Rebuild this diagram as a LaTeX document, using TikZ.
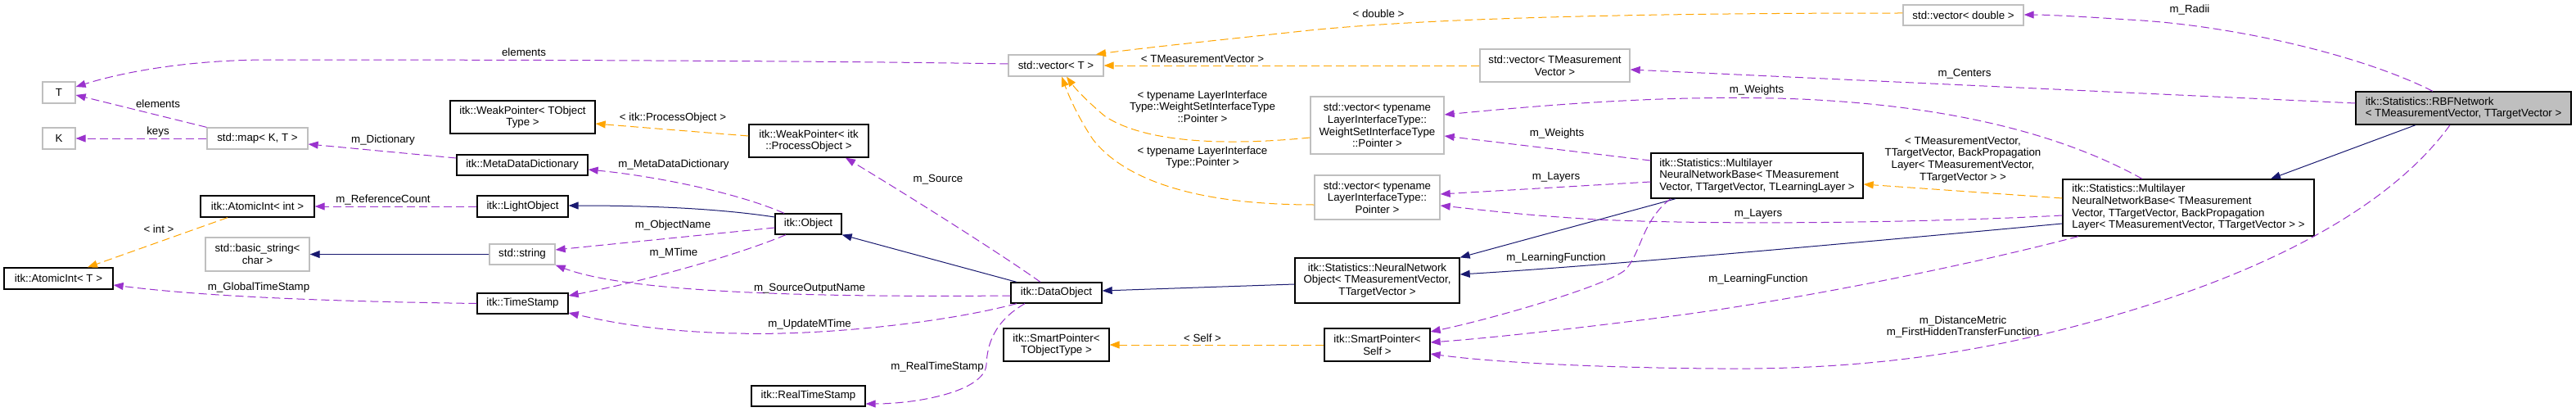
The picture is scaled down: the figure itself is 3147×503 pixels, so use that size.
\documentclass[tikz,border=0pt]{standalone}
\usepackage{fontspec}
\setmainfont{Liberation Sans}
\usetikzlibrary{arrows.meta}
\definecolor{mpurple}{HTML}{9A32CD}
\definecolor{morange}{HTML}{FFA500}
\definecolor{mblue}{HTML}{191970}
\definecolor{mgrey}{HTML}{BFBFBF}
\newcommand\dxfont{\fontsize{13.3}{14.7}\selectfont}
\begin{document}
\begin{tikzpicture}[x=1pt,y=-1pt,
  box/.style={draw=black, line width=1.3pt, fill=white, inner sep=0pt, font=\dxfont, align=center},
  gbox/.style={box, draw=mgrey},
  lbox/.style={box, align=left},
  fbox/.style={box, fill=mgrey, align=left},
  lab/.style={font=\dxfont, inner sep=0pt, align=center},
  tip/.style={-{Triangle[length=12pt,width=9pt]}},
  mem/.style={draw=mpurple, line width=1pt, dash pattern=on 10pt off 5pt, tip},
  tmpl/.style={draw=morange, line width=1pt, dash pattern=on 10pt off 5pt, tip},
  inh/.style={draw=mblue, line width=1pt, tip}]
\fill[white] (0,0) rectangle (3147,503);
\useasboundingbox (0,0) rectangle (3147,503);

% nodes
\node[gbox, minimum width=40pt, minimum height=26pt] (T) at (72,113) {T};
\node[gbox, minimum width=40pt, minimum height=26pt] (K) at (72,169) {K};
\node[gbox, minimum width=123pt, minimum height=26pt] (map) at (314.5,169) {std::map< K, T >};
\node[box, minimum width=139pt, minimum height=26pt] (AIint) at (314.5,252) {itk::AtomicInt< int >};
\node[gbox, minimum width=127pt, minimum height=41pt] (bstr) at (314.5,310.5) {std::basic\_string<\\char >};
\node[box, minimum width=133pt, minimum height=26pt] (AIT) at (71.5,340) {itk::AtomicInt< T >};
\node[box, minimum width=177pt, minimum height=40pt] (WPT) at (638.5,143) {itk::WeakPointer< TObject\\Type >};
\node[box, minimum width=160pt, minimum height=25pt] (MDD) at (638,201.5) {itk::MetaDataDictionary};
\node[box, minimum width=111pt, minimum height=26pt] (LO) at (638.5,252) {itk::LightObject};
\node[gbox, minimum width=80pt, minimum height=25pt] (str) at (638,310.5) {std::string};
\node[box, minimum width=111pt, minimum height=25pt] (TS) at (638.5,370.5) {itk::TimeStamp};
\node[box, minimum width=146pt, minimum height=40pt] (WPP) at (988,172) {itk::WeakPointer< itk\\::ProcessObject >};
\node[box, minimum width=81pt, minimum height=25pt] (Obj) at (987.5,273.5) {itk::Object};
\node[box, minimum width=139pt, minimum height=25pt] (RTS) at (987.5,483.5) {itk::RealTimeStamp};
\node[gbox, minimum width=116pt, minimum height=26pt] (vT) at (1290,80) {std::vector< T >};
\node[box, minimum width=111pt, minimum height=25pt] (DO) at (1290.5,357.5) {itk::DataObject};
\node[box, minimum width=129pt, minimum height=40pt] (SPT) at (1290.5,421) {itk::SmartPointer<\\TObjectType >};
\node[gbox, minimum width=147pt, minimum height=25pt] (vD) at (2398.5,18.5) {std::vector< double >};
\node[gbox, minimum width=183pt, minimum height=40pt] (vTMV) at (1899.5,80) {std::vector< TMeasurement\\Vector >};
\node[gbox, minimum width=163pt, minimum height=70pt] (vW) at (1682.5,153) {std::vector< typename\\LayerInterfaceType::\\WeightSetInterfaceType\\::Pointer >};
\node[gbox, minimum width=153pt, minimum height=54pt] (vL) at (1682.5,241) {std::vector< typename\\LayerInterfaceType::\\Pointer >};
\node[box, minimum width=201pt, minimum height=55pt] (NNO) at (1682.5,342.5) {itk::Statistics::NeuralNetwork\\Object< TMeasurementVector,\\TTargetVector >};
\node[box, minimum width=129pt, minimum height=40pt] (SPS) at (1682.5,421) {itk::SmartPointer<\\Self >};
\node[lbox, minimum width=259pt, minimum height=55pt] (MLT) at (2146.5,214.5) {itk::Statistics::Multilayer\\NeuralNetworkBase< TMeasurement\\Vector, TTargetVector, TLearningLayer >};
\node[lbox, minimum width=307pt, minimum height=69pt] (MLB) at (2673.5,253.5) {itk::Statistics::Multilayer\\NeuralNetworkBase< TMeasurement\\Vector, TTargetVector, BackPropagation\\Layer< TMeasurementVector, TTargetVector > >};
\node[fbox, minimum width=263pt, minimum height=40pt] (RBF) at (3009.5,132) {itk::Statistics::RBFNetwork\\< TMeasurementVector, TTargetVector >};

% edges
\draw[mem] (vT.west |- 0,78) .. controls (1000,74) and (600,73) .. (330,73) .. controls (230,73) and (150,88) .. (T.east |- 0,106);
\draw[mem] (map.north west) -- (T.east |- 0,116);
\draw[mem] (map.west) -- (K.east);
\draw[mem] (MDD.west |- 0,193) -- (map.east |- 0,176);
\draw[mem] (LO.west) -- (AIint.east);
\draw[tmpl] (278,0 |- AIint.south) -- (107,0 |- AIT.north);
\draw[inh] (str.west) -- (bstr.east);
\draw[mem] (TS.west) .. controls (400,368) and (250,362) .. (AIT.east |- 0,348);
\draw[tmpl] (WPP.west |- 0,166) -- (WPT.east |- 0,151);
\draw[mem] (958,0 |- Obj.north) .. controls (900,235) and (800,215) .. (MDD.east |- 0,207);
\draw[inh] (Obj.west |- 0,265) .. controls (880,255) and (800,251) .. (LO.east |- 0,251);
\draw[mem] (Obj.west |- 0,278) -- (str.east |- 0,305);
\draw[mem] (960,0 |- Obj.south) .. controls (900,312) and (780,345) .. (TS.east |- 0,361);
\draw[inh] (1242,0 |- DO.north) -- (Obj.south east);
\draw[mem] (1271,0 |- DO.north) .. controls (1230,315) and (1120,245) .. (1033,0 |- WPP.south);
\draw[mem] (DO.west |- 0,361) .. controls (1000,363) and (770,358) .. (str.south east);
\draw[mem] (1242,0 |- DO.south) .. controls (1150,395) and (1000,410) .. (900,407) .. controls (800,405) and (740,392) .. (TS.east |- 0,382);
\draw[mem] (1252,0 |- DO.south) .. controls (1215,392) and (1206,420) .. (1205,445) .. controls (1203,478) and (1120,493) .. (RTS.east |- 0,493);
\draw[inh] (NNO.west |- 0,347) -- (DO.east |- 0,355);
\draw[inh] (2047,0 |- MLT.south) -- (NNO.north east);
\draw[inh] (MLB.west |- 0,273) .. controls (2250,298) and (1950,325) .. (NNO.east |- 0,335);
\draw[mem] (MLT.west |- 0,196) -- (vW.east |- 0,166);
\draw[mem] (MLT.west |- 0,222) -- (vL.east |- 0,237);
\draw[mem] (2041,0 |- MLT.south) .. controls (2005,270) and (2005,310) .. (1985,330) .. controls (1960,350) and (1820,390) .. (SPS.east |- 0,405);
\draw[mem] (2617,0 |- MLB.north) .. controls (2530,170) and (2400,130) .. (2200,121) .. controls (2050,115) and (1900,127) .. (vW.east |- 0,140);
\draw[mem] (MLB.west |- 0,263) .. controls (2350,272) and (2100,275) .. (1950,268) .. controls (1850,262) and (1800,255) .. (vL.east |- 0,251);
\draw[mem] (2539,0 |- MLB.south) .. controls (2400,325) and (2200,365) .. (2050,385) .. controls (1950,398) and (1830,412) .. (SPS.east |- 0,418);
\draw[tmpl] (MLB.west |- 0,242) -- (MLT.east |- 0,225);
\draw[inh] (2951,0 |- RBF.south) -- (2774,0 |- MLB.north);
\draw[mem] (2993,0 |- RBF.south) .. controls (2930,240) and (2800,320) .. (2600,380) .. controls (2450,425) and (2300,452) .. (2100,450) .. controls (1950,449) and (1820,442) .. (SPS.east |- 0,432);
\draw[mem] (RBF.west |- 0,126) -- (vTMV.east |- 0,85);
\draw[mem] (2972,0 |- RBF.north) .. controls (2880,65) and (2720,30) .. (2600,24) .. controls (2540,20) and (2500,18) .. (vD.east |- 0,18);
\draw[tmpl] (vD.west |- 0,16) .. controls (2000,16) and (1750,22) .. (1600,37) .. controls (1480,50) and (1400,58) .. (1339,0 |- vT.north);
\draw[tmpl] (vTMV.west) -- (vT.east);
\draw[tmpl] (vW.west |- 0,168) .. controls (1500,178) and (1400,175) .. (1350,142) .. controls (1333,128) and (1315,110) .. (1303,0 |- vT.south);
\draw[tmpl] (vL.west |- 0,250) .. controls (1450,250) and (1370,215) .. (1335,170) .. controls (1315,140) and (1305,115) .. (1297,0 |- vT.south);
\draw[tmpl] (SPS.west) -- (SPT.east);

% labels
\node[lab] (l1) at (640,64) {elements};
\node[lab] (l2) at (193,127) {elements};
\node[lab] (l3) at (193,161) {keys};
\node[lab] (l4) at (468,171) {m\_Dictionary};
\node[lab] (l5) at (468,244) {m\_ReferenceCount};
\node[lab] (l6) at (194,280) {< int >};
\node[lab] (l7) at (316,351) {m\_GlobalTimeStamp};
\node[lab] (l8) at (822,144) {< itk::ProcessObject >};
\node[lab] (l9) at (823,201) {m\_MetaDataDictionary};
\node[lab] (l10) at (822,275) {m\_ObjectName};
\node[lab] (l11) at (823,309) {m\_MTime};
\node[lab] (l12) at (989,352) {m\_SourceOutputName};
\node[lab] (l13) at (989,396) {m\_UpdateMTime};
\node[lab] (l14) at (1146,219) {m\_Source};
\node[lab] (l15) at (1145,448) {m\_RealTimeStamp};
\node[lab] (l16) at (1469,72) {< TMeasurementVector >};
\node[lab] (l17) at (1469,130) {< typename LayerInterface\\Type::WeightSetInterfaceType\\::Pointer >};
\node[lab] (l18) at (1469,192) {< typename LayerInterface\\Type::Pointer >};
\node[lab] (l19) at (1469,413) {< Self >};
\node[lab] (l20) at (1684,17) {< double >};
\node[lab] (l21) at (1902,163) {m\_Weights};
\node[lab] (l22) at (1901,216) {m\_Layers};
\node[lab] (l23) at (1901,315) {m\_LearningFunction};
\node[lab] (l24) at (2146,110) {m\_Weights};
\node[lab] (l25) at (2148,261) {m\_Layers};
\node[lab] (l26) at (2148,341) {m\_LearningFunction};
\node[lab] (l27) at (2400,90) {m\_Centers};
\node[lab] (l28) at (2675,12) {m\_Radii};
\node[lab] (l29) at (2398,195) {< TMeasurementVector,\\TTargetVector, BackPropagation\\Layer< TMeasurementVector,\\TTargetVector > >};
\node[lab] (l30) at (2398,399) {m\_DistanceMetric\\m\_FirstHiddenTransferFunction};
\end{tikzpicture}
\end{document}
